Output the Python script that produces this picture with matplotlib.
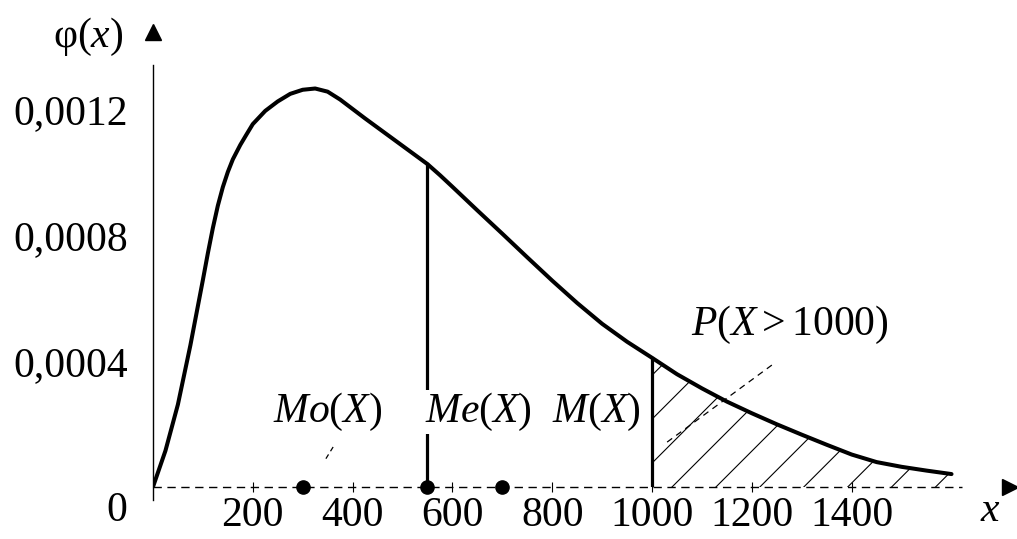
import numpy as np
import matplotlib
matplotlib.use("Agg")
import matplotlib.pyplot as plt
from matplotlib.patches import Polygon

# Density curve phi(x) read at selected x values
x_vals = [0, 25, 50, 75, 100, 110, 120, 130, 140, 150, 160, 175, 187, 200, 225,
          250, 275, 300, 325, 350, 375, 400, 425, 450, 475, 500, 525, 550, 575,
          600, 650, 700, 750, 800, 850, 900, 950, 1000, 1050, 1100, 1150, 1200,
          1250, 1300, 1350, 1400, 1450, 1500, 1550, 1600]
phi_vals = [0, 0.000115, 0.000262, 0.000450, 0.000657, 0.000742, 0.000822,
            0.000893, 0.000952, 0.001000, 0.001040, 0.001086, 0.001118, 0.001152,
            0.001194, 0.001224, 0.001248, 0.001261, 0.001265, 0.001255, 0.001230,
            0.001200, 0.001170, 0.001141, 0.001112, 0.001083, 0.001054, 0.001025,
            0.000990, 0.000953, 0.000878, 0.000804, 0.000729, 0.000655, 0.000584,
            0.000518, 0.000461, 0.000410, 0.000358, 0.000313, 0.000271, 0.000234,
            0.000199, 0.000166, 0.000134, 0.000103, 0.000079, 0.000064, 0.000052,
            0.000041]

# Characteristic points: mode, median, mean
mode_x, median_x, mean_x = 300, 550, 700
threshold = 1000

x_ticks = [200, 400, 600, 800, 1000, 1200, 1400]
y_ticks = [0.0004, 0.0008, 0.0012]
y_ticklabels = ["0,0004", "0,0008", "0,0012"]

plt.rcParams["font.family"] = ["Liberation Serif", "DejaVu Serif"]
plt.rcParams["mathtext.fontset"] = "custom"
plt.rcParams["mathtext.rm"] = "Liberation Serif"
plt.rcParams["mathtext.it"] = "Liberation Serif:italic"

FS = 30
fig = plt.figure(figsize=(10.17, 5.39), dpi=100)
ax = fig.add_axes([0.1504, 0.0965, 0.8446, 0.8474])
ax.set_xlim(0, 1721)
ax.set_ylim(0, 0.00145)
for s in ax.spines.values():
    s.set_visible(False)

x_arr = np.array(x_vals, dtype=float)
phi_arr = np.array(phi_vals, dtype=float)

def phi_at(x):
    return float(np.interp(x, x_arr, phi_arr))

# Axes drawn by hand: solid y axis with arrow, dashed x axis with arrow
ax.plot([0, 0], [-0.00004, 0.00134], color="black", lw=1.0, clip_on=False)
ax.plot([0], [0.001444], marker="^", color="black", ms=11, clip_on=False)
ax.plot([0, 1620], [0, 0], color="black", lw=1.0, ls=(0, (6, 4)), clip_on=False)
ax.plot([1718], [0], marker=">", color="black", ms=11, clip_on=False)

# Density curve
ax.plot(x_arr, phi_arr, color="black", lw=2.9, solid_capstyle="round",
        solid_joinstyle="round", zorder=4)

# Vertical lines at the median and at the threshold
ax.plot([median_x, median_x], [0, phi_at(median_x)], color="black", lw=2.3, zorder=3)
ax.plot([threshold, threshold], [0, phi_at(threshold)], color="black", lw=2.3, zorder=3)

# Hatched tail area P(X > 1000)
mask = x_arr >= threshold
tail_x = x_arr[mask]
tail_y = phi_arr[mask]
verts = [(threshold, 0)] + list(zip(tail_x, tail_y)) + [(tail_x[-1], 0)]
clip_poly = Polygon(verts, closed=True, facecolor="none", edgecolor="none")
ax.add_patch(clip_poly)

fig.canvas.draw()
p0 = ax.transData.transform((0, 0))
p1 = ax.transData.transform((1, 0.001))
sx = p1[0] - p0[0]
sy = (p1[1] - p0[1]) / 0.001
k = sx / sy  # data slope of a 45-degree line on screen
for x0 in np.arange(600, 1620, 88):
    xe = x0 + 0.0006 / k
    ln, = ax.plot([x0, xe], [0, k * (xe - x0)], color="black", lw=0.8, zorder=2)
    ln.set_clip_path(clip_poly)

# Points on the x axis
ax.plot([mode_x, median_x, mean_x], [0, 0, 0], "o", color="black", ms=9.5,
        zorder=5, clip_on=False)

# Labels
ax.text(349, 0.000238, r"$Mo(X)$", fontsize=FS, ha="center", va="center")
ax.text(653, 0.000238, r"$Me(X)$", fontsize=FS, ha="center", va="center",
        bbox=dict(facecolor="white", edgecolor="none", pad=1))
ax.text(889, 0.000238, r"$M(X)$", fontsize=FS, ha="center", va="center")
ax.text(1277, 0.000514, r"$P(X{>}1000)$", fontsize=FS, ha="center", va="center")

# Leader lines
ax.plot([1240, 1022], [0.000387, 0.000133], color="black", lw=0.9, ls=(0, (5, 4)))
ax.plot([361, 345], [0.000127, 0.000086], color="black", lw=0.9, ls=(0, (4, 3)))

# Ticks
ax.set_xticks(x_ticks)
ax.set_xticklabels([str(t) for t in x_ticks], fontsize=FS)
ax.tick_params(axis="x", direction="inout", length=7, width=0.8, pad=3)
ax.set_yticks(y_ticks)
ax.set_yticklabels(y_ticklabels, fontsize=FS)
ax.tick_params(axis="y", length=0, pad=18)

ax.annotate("0", xy=(0, 0), xytext=(-26, -3.4), textcoords="offset points",
            fontsize=FS, ha="center", va="top")
ax.annotate(r"$x$", xy=(1677, 0), xytext=(0, -3.4), textcoords="offset points",
            fontsize=FS, ha="center", va="top", annotation_clip=False)
ax.text(-130, 0.001429, r"$\mathrm{φ}(x)$", fontsize=FS, ha="center", va="center",
        clip_on=False)

fig.savefig("out.png", dpi=100, facecolor="white")
